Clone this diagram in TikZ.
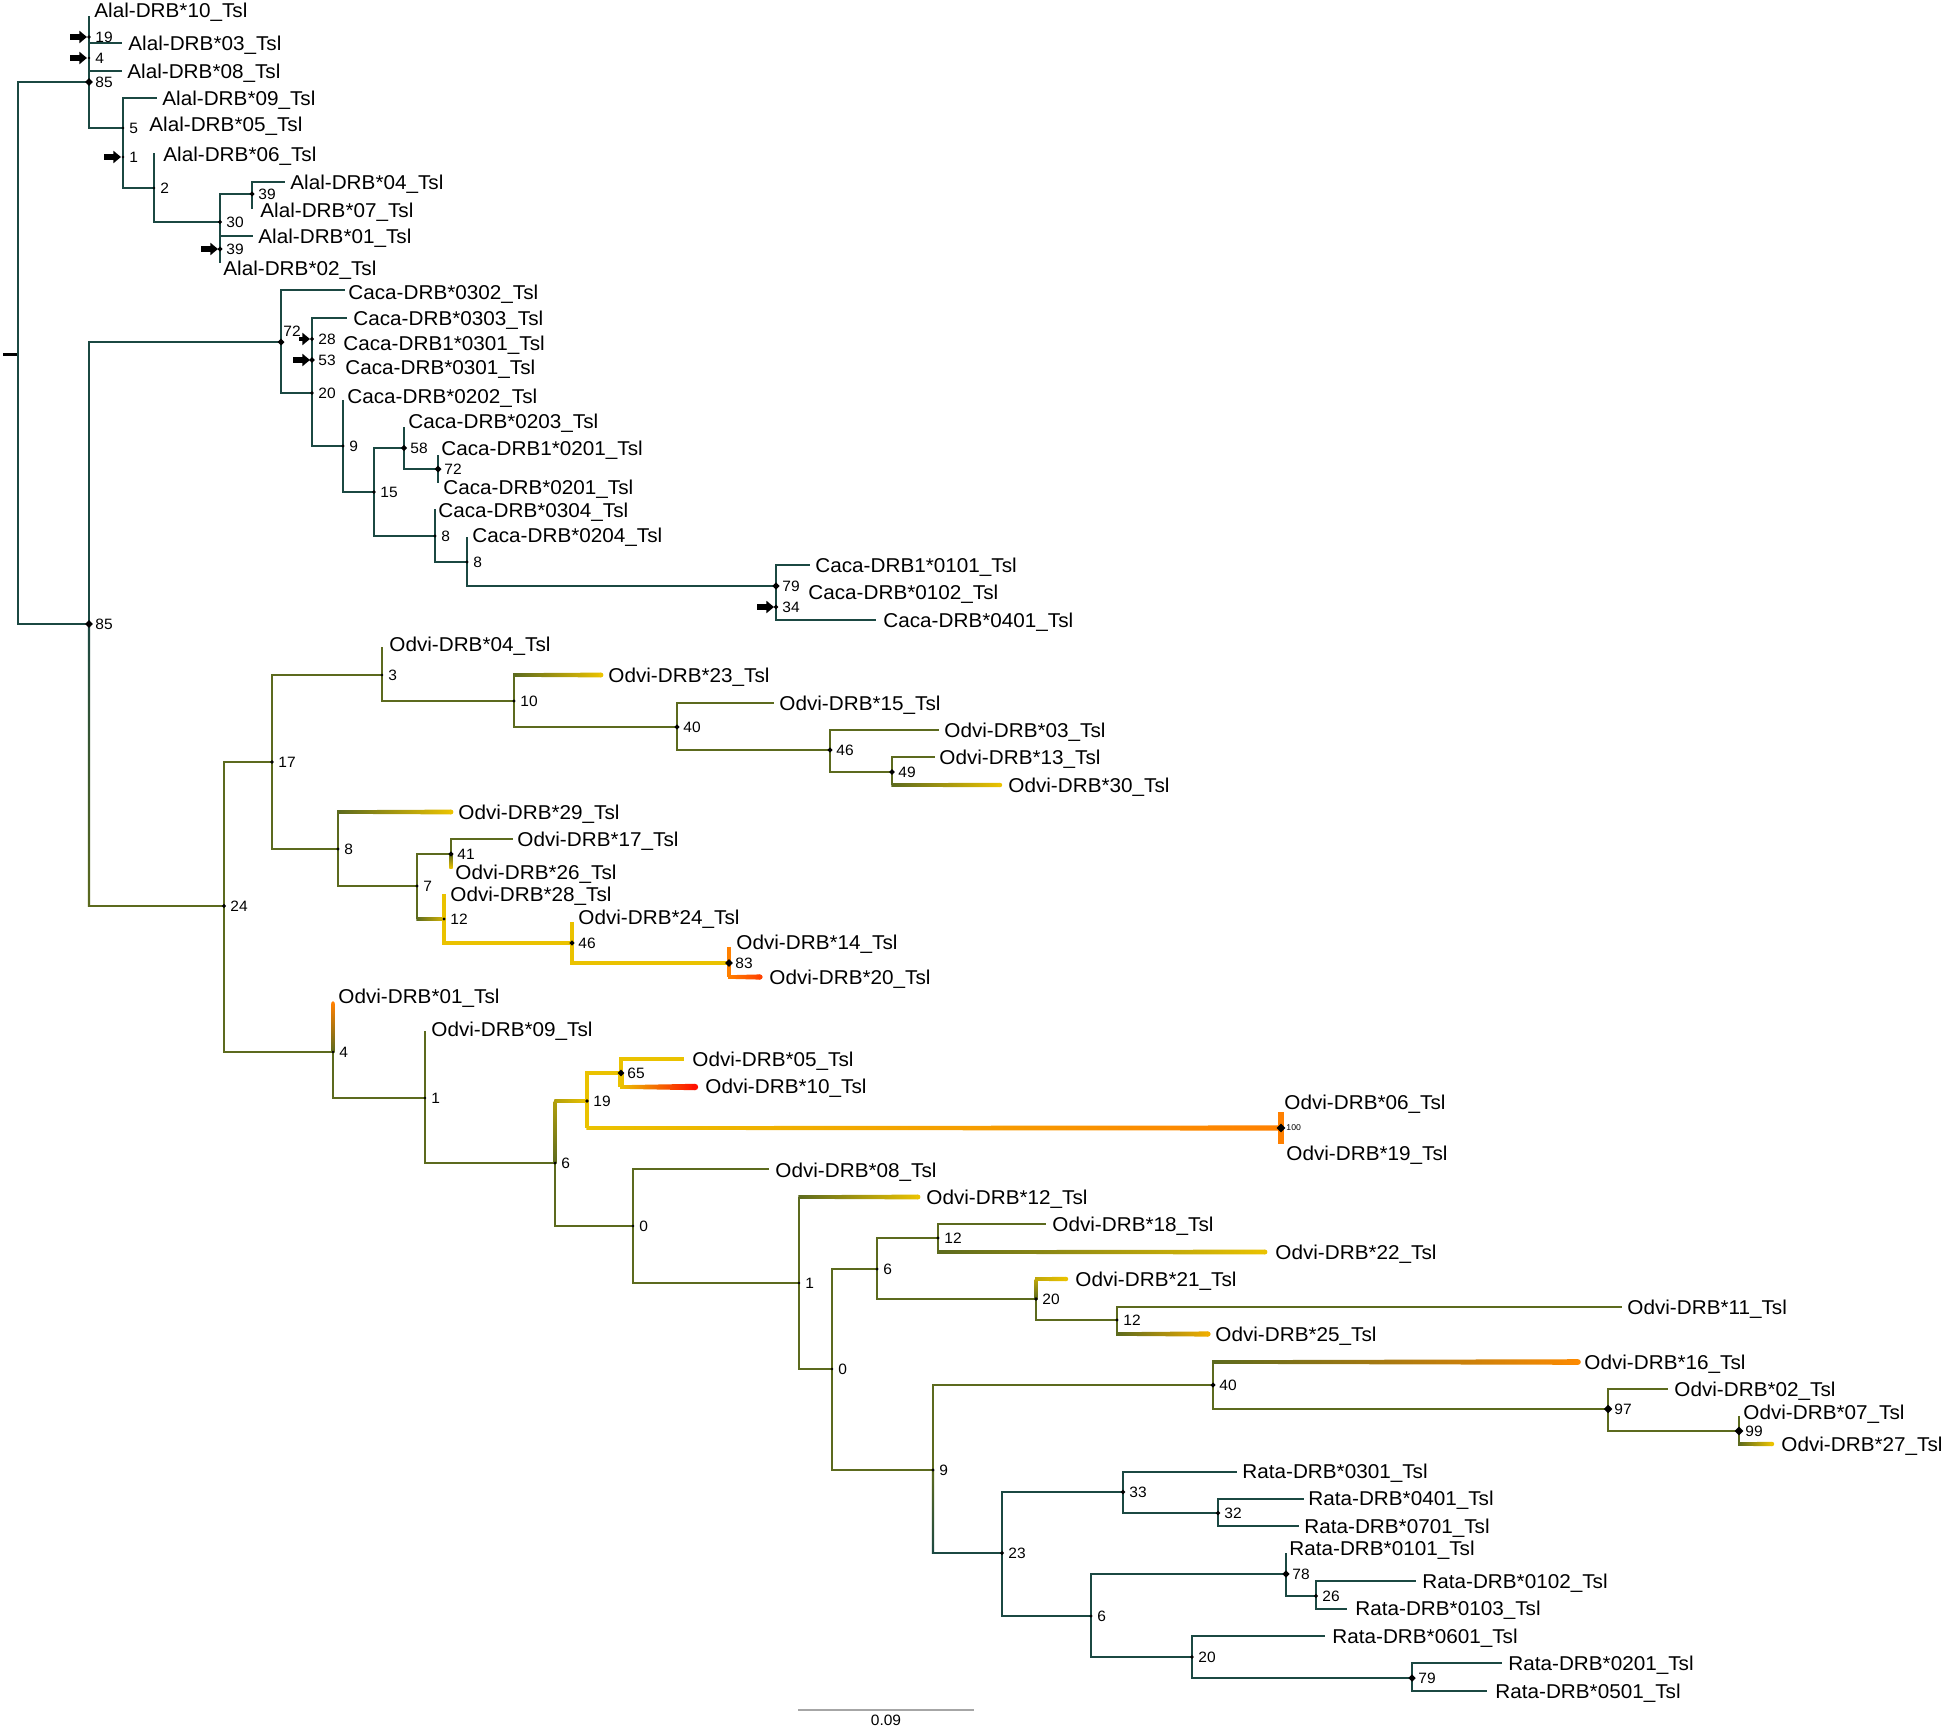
\documentclass[tikz,border=0pt]{standalone}
\usepackage{fontspec}
\setmainfont{Liberation Sans}[FakeStretch=1.035]
\usetikzlibrary{calc,shapes.geometric,arrows.meta}

\definecolor{treeteal}{RGB}{27,72,66}
\definecolor{treeolive}{RGB}{92,106,30}
\definecolor{treegold}{RGB}{234,194,0}
\definecolor{treeorange}{RGB}{255,128,0}
\definecolor{treered}{RGB}{255,16,0}

\newcommand{\hgrad}[5]{%
  \shade[left color=#3, right color=#4]
    ($(#1|-#2)+(-0.7,1.8)$) -- ($(#2)+(0,#5)$) -- ($(#2)+(0,-#5)$) -- ($(#1|-#2)+(-0.7,-1.8)$) -- cycle;
  \fill[#4] (#2) circle (#5);}
\newcommand{\vgrad}[5]{%
  \shade[top color=#3, bottom color=#4] ($(#1)+(-#5,0)$) rectangle ($(#2)+(#5,0)$);}

\tikzset{
  tb/.style={treeteal, line width=1pt},
  ob/.style={treeolive, line width=1.4pt},
  gb/.style={treegold, line width=2pt},
  rb/.style={treeorange, line width=2pt},
  leaf/.style={anchor=west, inner sep=0pt, text height=7.2pt, text depth=0pt, font=\fontsize{10}{12}\selectfont},
  bsnum/.style={anchor=west, inner sep=0pt, font=\fontsize{7.5}{9}\selectfont},
  bsmark/.style={diamond, fill=black, inner sep=0pt},
  pointer/.style={line width=2.6pt, -{Triangle[length=3.8pt, width=6pt]}},
}

\begin{document}
\begin{tikzpicture}[x=0.5pt, y=-0.5pt]
  \useasboundingbox (0,0) rectangle (1946,1728);

  % tree nodes
  \coordinate (rootstub) at (3,354);
  \coordinate (root) at (18,354);
  \coordinate (n85a) at (89,82);
  \coordinate (alal10) at (89,16);
  \coordinate (n19) at (89,37);
  \coordinate (alal03) at (122,43);
  \coordinate (n4a) at (89,58);
  \coordinate (alal08) at (122,71);
  \coordinate (n5) at (123,128);
  \coordinate (alal09) at (157,98);
  \coordinate (n1a) at (123,157);
  \coordinate (n2) at (154,188);
  \coordinate (alal06) at (154,153);
  \coordinate (n30) at (220,222);
  \coordinate (n39a) at (252,194);
  \coordinate (alal04) at (285,182);
  \coordinate (alal07) at (252,209);
  \coordinate (alal01) at (253,236);
  \coordinate (n39b) at (220,249);
  \coordinate (alal02) at (220,263);

  \coordinate (n85b) at (89,624);
  \coordinate (n72a) at (281,342);
  \coordinate (caca0302) at (345,290);
  \coordinate (n20c) at (312,393);
  \coordinate (caca0303) at (347,318);
  \coordinate (n28) at (312,339);
  \coordinate (n53) at (312,360);
  \coordinate (n9c) at (343,446);
  \coordinate (caca0202) at (343,400);
  \coordinate (n15c) at (374,492);
  \coordinate (n58) at (404,448);
  \coordinate (caca0203) at (404,427);
  \coordinate (n72b) at (438,469);
  \coordinate (cacaA0201) at (438,455);
  \coordinate (caca0201) at (438,483);
  \coordinate (n8c) at (435,536);
  \coordinate (caca0304) at (435,509);
  \coordinate (n8d) at (467,562);
  \coordinate (caca0204) at (467,537);
  \coordinate (n79c) at (776,586);
  \coordinate (cacaA0101) at (810,565);
  \coordinate (n34) at (776,607);
  \coordinate (caca0401) at (876,620);

  \coordinate (c24) at (89,906);
  \coordinate (n24) at (224,906);
  \coordinate (n17) at (272,762);
  \coordinate (n3) at (382,675);
  \coordinate (odvi04) at (382,647);
  \coordinate (n10) at (514,701);
  \coordinate (odvi23) at (601,675);
  \coordinate (n40a) at (677,727);
  \coordinate (odvi15) at (774,703);
  \coordinate (n46a) at (830,750);
  \coordinate (odvi03) at (939,730);
  \coordinate (n49) at (892,772);
  \coordinate (odvi13) at (935,757);
  \coordinate (odvi30) at (1000,785);
  \coordinate (n8o) at (338,849);
  \coordinate (odvi29) at (451,812);
  \coordinate (n7) at (417,886);
  \coordinate (n41) at (451,854);
  \coordinate (odvi17) at (513,839);
  \coordinate (odvi26) at (451,868);
  \coordinate (n12a) at (444,919);
  \coordinate (odvi28) at (444,894);
  \coordinate (n46b) at (572,943);
  \coordinate (odvi24) at (572,922);
  \coordinate (n83) at (729,963);
  \coordinate (odvi14) at (729,947);
  \coordinate (odvi20) at (760,977);
  \coordinate (n4o) at (333,1052);
  \coordinate (odvi01) at (333,1003);
  \coordinate (n1o) at (425,1098);
  \coordinate (odvi09) at (425,1031);
  \coordinate (n6o) at (555,1163);
  \coordinate (c19o) at (555,1101);
  \coordinate (n19o) at (587,1101);
  \coordinate (n65) at (621,1073);
  \coordinate (odvi05) at (684,1059);
  \coordinate (odvi10) at (695,1087);
  \coordinate (n100) at (1281,1128);
  \coordinate (odvi06) at (1281,1112);
  \coordinate (odvi19) at (1281,1144);
  \coordinate (n0a) at (633,1226);
  \coordinate (odvi08) at (769,1169);
  \coordinate (n1b) at (799,1283);
  \coordinate (odvi12) at (918,1197);
  \coordinate (n0b) at (832,1369);
  \coordinate (n6b) at (877,1269);
  \coordinate (n12b) at (938,1238);
  \coordinate (odvi18) at (1046,1224);
  \coordinate (odvi22) at (1265,1252);
  \coordinate (n20o) at (1036,1299);
  \coordinate (c21) at (1036,1279);
  \coordinate (odvi21) at (1066,1279);
  \coordinate (n12c) at (1117,1320);
  \coordinate (odvi11) at (1622,1307);
  \coordinate (odvi25) at (1208,1334);
  \coordinate (n9o) at (933,1470);
  \coordinate (c23) at (933,1553);
  \coordinate (n40b) at (1213,1385);
  \coordinate (odvi16) at (1578,1362);
  \coordinate (n97) at (1608,1409);
  \coordinate (odvi02) at (1668,1389);
  \coordinate (n99) at (1739,1431);
  \coordinate (odvi07) at (1739,1416);
  \coordinate (odvi27) at (1772,1444);

  \coordinate (n23) at (1002,1553);
  \coordinate (n33) at (1123,1492);
  \coordinate (rata0301) at (1237,1472);
  \coordinate (n32) at (1218,1513);
  \coordinate (rata0401) at (1304,1499);
  \coordinate (rata0701) at (1299,1526);
  \coordinate (n6r) at (1091,1616);
  \coordinate (n78) at (1286,1574);
  \coordinate (rata0101) at (1286,1553);
  \coordinate (n26) at (1316,1596);
  \coordinate (rata0102) at (1416,1581);
  \coordinate (rata0103) at (1347,1609);
  \coordinate (n20r) at (1192,1657);
  \coordinate (rata0601) at (1325,1636);
  \coordinate (n79r) at (1412,1678);
  \coordinate (rata0201) at (1502,1663);
  \coordinate (rata0501) at (1487,1691);

  % branches
  \draw[black, line width=1.5pt] (rootstub) -- (root);
  \foreach \a/\b in {root/n85a, root/n85b, n85a/alal10, n19/alal03, n4a/alal08, n85a/n5,
      n5/alal09, n5/n2, n2/alal06, n2/n30, n30/n39a, n30/alal01, n30/alal02, n39a/alal04,
      n39a/alal07, n85b/n72a, n72a/caca0302, n72a/n20c, n20c/caca0303, n20c/n9c,
      n9c/caca0202, n9c/n15c, n15c/n58, n15c/n8c, n58/caca0203, n58/n72b, n72b/cacaA0201,
      n72b/caca0201, n8c/caca0304, n8c/n8d, n8d/caca0204, n8d/n79c, n79c/cacaA0101,
      n79c/caca0401, n23/n33, n23/n6r, n33/rata0301, n33/n32, n32/rata0401, n32/rata0701,
      n6r/n78, n6r/n20r, n78/rata0101, n78/n26, n26/rata0102, n26/rata0103, n20r/rata0601,
      n20r/n79r, n79r/rata0201, n79r/rata0501}
    \draw[tb] (\a) |- (\b);

  \vgrad{n85b}{c24}{treeteal}{treeolive}{1.2}
  \draw[ob] (c24) -- (n24);
  \vgrad{n9o}{c23}{treeolive}{treeteal}{1.2}
  \draw[tb] (c23) -- (n23);

  \foreach \a/\b in {n24/n17, n24/n4o, n17/n3, n17/n8o, n3/odvi04, n3/n10, n10/n40a,
      n40a/odvi15, n40a/n46a, n46a/odvi03, n46a/n49, n49/odvi13, n8o/n7, n7/n41, n41/odvi17,
      n4o/n1o, n1o/odvi09, n1o/n6o, n6o/n0a, n0a/odvi08, n0a/n1b, n1b/n0b, n0b/n6b, n0b/n9o,
      n6b/n12b, n6b/n20o, n12b/odvi18, n20o/n12c, n12c/odvi11, n9o/n40b, n40b/n97,
      n97/odvi02, n97/n99, n99/odvi07}
    \draw[ob] (\a) |- (\b);

  \foreach \a/\b in {n10/odvi23, n49/odvi30, n8o/odvi29, n7/n12a, n1b/odvi12, n12b/odvi22,
      n12c/odvi25, n40b/odvi16, n99/odvi27}
    \draw[ob] (\a) -- (\a|-\b);
  \hgrad{n10}{odvi23}{treeolive}{treegold}{2.4}
  \hgrad{n49}{odvi30}{treeolive}{treegold}{2.2}
  \hgrad{n8o}{odvi29}{treeolive}{treegold}{2.4}
  \hgrad{n7}{n12a}{treeolive}{treegold!85!treeolive}{2}
  \hgrad{n1b}{odvi12}{treeolive}{treegold}{2.4}
  \hgrad{n12b}{odvi22}{treeolive}{treegold}{2.4}
  \hgrad{n12c}{odvi25}{treeolive}{treegold!70!treeorange}{2.6}
  \hgrad{n40b}{odvi16}{treeolive}{treeorange!85!treegold}{2.8}
  \hgrad{n99}{odvi27}{treeolive}{treegold}{2.2}
  \vgrad{n41}{odvi26}{treeolive}{treegold}{1.6}
  \vgrad{c21}{n20o}{treegold!70!treeolive}{treeolive}{1.5}
  \hgrad{n20o}{odvi21}{treegold!70!treeolive}{treegold}{2.2}
  \vgrad{odvi01}{n4o}{treeorange}{treeolive}{1.6}
  \fill[treeorange] (odvi01) circle (1.8);
  \vgrad{c19o}{n6o}{treegold!60!treeolive}{treeolive}{1.5}
  \hgrad{n6o}{n19o}{treegold!60!treeolive}{treegold}{2}

  \draw[gb] (n12a) -- (odvi28);
  \draw[gb] (n12a) |- (n46b);
  \draw[gb] (n46b) -- (odvi24);
  \draw[gb] (n46b) |- (n83);
  \draw[rb] (odvi14) -- (n83|-odvi20);
  \hgrad{n83}{odvi20}{treeorange}{treeorange!45!treered}{2.6}
  \draw[gb] (n19o) |- (n65);
  \draw[gb] (n19o) -- (n19o|-n100);
  \hgrad{n19o}{n100}{treegold}{treeorange}{2.6}
  \draw[gb] (n65) |- (odvi05);
  \draw[gb, line width=2.6pt] (n65) -- (n65|-odvi10);
  \hgrad{n65}{odvi10}{treegold}{treered}{3.2}
  \draw[rb, line width=2.6pt] (odvi06) -- (odvi19);

  % pointers
  \foreach \n in {n19, n4a, n1a, n39b, n53, n34}
    \draw[pointer] ([xshift=-9.5pt]\n) -- ([xshift=-1pt]\n);
  \draw[pointer, line width=2pt] ([xshift=-6.5pt]n28) -- ([xshift=-1pt]n28);

  % support values
  \foreach \n/\v in {n85a/85, n19/19, n4a/4, n5/5, n1a/1, n2/2, n30/30, n39a/39, n39b/39,
      n20c/20, n28/28, n53/53, n9c/9, n15c/15, n58/58, n72b/72, n8c/8, n8d/8, n79c/79,
      n34/34, n85b/85, n24/24, n17/17, n3/3, n10/10, n40a/40, n46a/46, n49/49, n8o/8, n7/7,
      n41/41, n12a/12, n46b/46, n83/83, n4o/4, n1o/1, n6o/6, n19o/19, n65/65, n0a/0, n1b/1,
      n6b/6, n12b/12, n20o/20, n12c/12, n0b/0, n9o/9, n40b/40, n97/97, n99/99, n23/23,
      n33/33, n32/32, n6r/6, n78/78, n26/26, n20r/20, n79r/79} {
    \node[bsmark, minimum size={1.5pt+0.03pt*\v}] (m-\n) at (\n) {};
    \node[bsnum] (b-\n) at ([xshift=3pt]\n) {\v};
  }
  \node[bsmark, minimum size=3.66pt] (m-n72a) at (n72a) {};
  \node[bsnum] (b-n72a) at ([xshift=1pt, yshift=5.5pt]n72a) {72};
  \node[bsmark, minimum size=4.6pt] (m-n100) at (n100) {};
  \node[bsnum, font=\fontsize{4.2}{5}\selectfont] (b-n100) at ([xshift=2.5pt]n100) {100};

  % leaf labels
  \node[leaf] (l-alal10) at (94,10) {Alal-DRB*10\_Tsl};
  \node[leaf] (l-alal03) at (128,43) {Alal-DRB*03\_Tsl};
  \node[leaf] (l-alal08) at (127,71) {Alal-DRB*08\_Tsl};
  \node[leaf] (l-alal09) at (162,98) {Alal-DRB*09\_Tsl};
  \node[leaf] (l-alal05) at (149,124) {Alal-DRB*05\_Tsl};
  \node[leaf] (l-alal06) at (163,154) {Alal-DRB*06\_Tsl};
  \node[leaf] (l-alal04) at (290,182) {Alal-DRB*04\_Tsl};
  \node[leaf] (l-alal07) at (260,210) {Alal-DRB*07\_Tsl};
  \node[leaf] (l-alal01) at (258,236) {Alal-DRB*01\_Tsl};
  \node[leaf] (l-alal02) at (223,268) {Alal-DRB*02\_Tsl};
  \node[leaf] (l-caca0302) at (348,292) {Caca-DRB*0302\_Tsl};
  \node[leaf] (l-caca0303) at (353,318) {Caca-DRB*0303\_Tsl};
  \node[leaf] (l-cacaA0301) at (343,343) {Caca-DRB1*0301\_Tsl};
  \node[leaf] (l-caca0301) at (345,367) {Caca-DRB*0301\_Tsl};
  \node[leaf] (l-caca0202) at (347,396) {Caca-DRB*0202\_Tsl};
  \node[leaf] (l-caca0203) at (408,421) {Caca-DRB*0203\_Tsl};
  \node[leaf] (l-cacaA0201) at (441,448) {Caca-DRB1*0201\_Tsl};
  \node[leaf] (l-caca0201) at (443,487) {Caca-DRB*0201\_Tsl};
  \node[leaf] (l-caca0304) at (438,510) {Caca-DRB*0304\_Tsl};
  \node[leaf] (l-caca0204) at (472,535) {Caca-DRB*0204\_Tsl};
  \node[leaf] (l-cacaA0101) at (815,565) {Caca-DRB1*0101\_Tsl};
  \node[leaf] (l-caca0102) at (808,592) {Caca-DRB*0102\_Tsl};
  \node[leaf] (l-caca0401) at (883,620) {Caca-DRB*0401\_Tsl};
  \node[leaf] (l-odvi04) at (389,644) {Odvi-DRB*04\_Tsl};
  \node[leaf] (l-odvi23) at (608,675) {Odvi-DRB*23\_Tsl};
  \node[leaf] (l-odvi15) at (779,703) {Odvi-DRB*15\_Tsl};
  \node[leaf] (l-odvi03) at (944,730) {Odvi-DRB*03\_Tsl};
  \node[leaf] (l-odvi13) at (939,757) {Odvi-DRB*13\_Tsl};
  \node[leaf] (l-odvi30) at (1008,785) {Odvi-DRB*30\_Tsl};
  \node[leaf] (l-odvi29) at (458,812) {Odvi-DRB*29\_Tsl};
  \node[leaf] (l-odvi17) at (517,839) {Odvi-DRB*17\_Tsl};
  \node[leaf] (l-odvi26) at (455,872) {Odvi-DRB*26\_Tsl};
  \node[leaf] (l-odvi28) at (450,894) {Odvi-DRB*28\_Tsl};
  \node[leaf] (l-odvi24) at (578,917) {Odvi-DRB*24\_Tsl};
  \node[leaf] (l-odvi14) at (736,942) {Odvi-DRB*14\_Tsl};
  \node[leaf] (l-odvi20) at (769,977) {Odvi-DRB*20\_Tsl};
  \node[leaf] (l-odvi01) at (338,996) {Odvi-DRB*01\_Tsl};
  \node[leaf] (l-odvi09) at (431,1029) {Odvi-DRB*09\_Tsl};
  \node[leaf] (l-odvi05) at (692,1059) {Odvi-DRB*05\_Tsl};
  \node[leaf] (l-odvi10) at (705,1086) {Odvi-DRB*10\_Tsl};
  \node[leaf] (l-odvi06) at (1284,1102) {Odvi-DRB*06\_Tsl};
  \node[leaf] (l-odvi19) at (1286,1153) {Odvi-DRB*19\_Tsl};
  \node[leaf] (l-odvi08) at (775,1170) {Odvi-DRB*08\_Tsl};
  \node[leaf] (l-odvi12) at (926,1197) {Odvi-DRB*12\_Tsl};
  \node[leaf] (l-odvi18) at (1052,1224) {Odvi-DRB*18\_Tsl};
  \node[leaf] (l-odvi22) at (1275,1252) {Odvi-DRB*22\_Tsl};
  \node[leaf] (l-odvi21) at (1075,1279) {Odvi-DRB*21\_Tsl};
  \node[leaf] (l-odvi11) at (1627,1307) {Odvi-DRB*11\_Tsl};
  \node[leaf] (l-odvi25) at (1215,1334) {Odvi-DRB*25\_Tsl};
  \node[leaf] (l-odvi16) at (1584,1362) {Odvi-DRB*16\_Tsl};
  \node[leaf] (l-odvi02) at (1674,1389) {Odvi-DRB*02\_Tsl};
  \node[leaf] (l-odvi07) at (1743,1412) {Odvi-DRB*07\_Tsl};
  \node[leaf] (l-odvi27) at (1781,1444) {Odvi-DRB*27\_Tsl};
  \node[leaf] (l-rata0301) at (1242,1471) {Rata-DRB*0301\_Tsl};
  \node[leaf] (l-rata0401) at (1308,1498) {Rata-DRB*0401\_Tsl};
  \node[leaf] (l-rata0701) at (1304,1526) {Rata-DRB*0701\_Tsl};
  \node[leaf] (l-rata0101) at (1289,1548) {Rata-DRB*0101\_Tsl};
  \node[leaf] (l-rata0102) at (1422,1581) {Rata-DRB*0102\_Tsl};
  \node[leaf] (l-rata0103) at (1355,1608) {Rata-DRB*0103\_Tsl};
  \node[leaf] (l-rata0601) at (1332,1636) {Rata-DRB*0601\_Tsl};
  \node[leaf] (l-rata0201) at (1508,1663) {Rata-DRB*0201\_Tsl};
  \node[leaf] (l-rata0501) at (1495,1691) {Rata-DRB*0501\_Tsl};

  % scale bar
  \coordinate (sbl) at (798,1710);
  \coordinate (sbr) at (974,1710);
  \draw[gray!70, line width=0.6pt] (sbl) -- (sbr);
  \node[bsnum, anchor=north] (sblab) at ($(sbl)!0.5!(sbr)+(0,5)$) {0.09};
\end{tikzpicture}
\end{document}
